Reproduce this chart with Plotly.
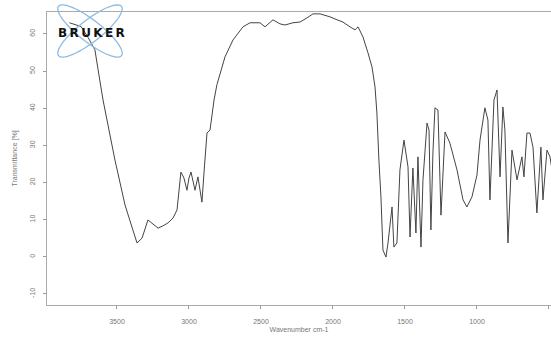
import numpy as np
import plotly.graph_objects as go

wavenumber = [3830, 3750, 3700, 3653, 3639, 3597, 3514, 3444, 3361, 3326, 3285, 3250, 3215, 3181,
              3146, 3111, 3083, 3056, 3035, 3014, 3000, 2986, 2958, 2938, 2910, 2896, 2875, 2854, 2840,
              2826, 2806, 2750, 2694, 2625, 2576, 2507, 2472, 2438, 2417, 2368, 2333, 2278, 2229, 2181,
              2139, 2090, 2021, 1972, 1931, 1882, 1847, 1826, 1792, 1757, 1729, 1708, 1695, 1681, 1667,
              1653, 1632, 1618, 1604, 1590, 1577, 1556, 1535, 1507, 1479, 1465, 1445, 1424, 1410, 1389,
              1375, 1347, 1333, 1320, 1306, 1292, 1271, 1250, 1222, 1188, 1139, 1097, 1070, 1035, 1000,
              979, 945, 924, 910, 882, 861, 840, 820, 806, 785, 757, 722, 688, 674, 653,
              632, 611, 584, 556, 542, 514, 493, 479]
transmittance = [63.0, 62.0, 59.0, 55.7, 52.2, 42.2, 26.0, 13.9, 3.7, 5.0, 9.9, 8.8, 7.7, 8.3,
                 9.1, 10.4, 12.6, 22.8, 21.2, 17.9, 21.2, 22.8, 17.9, 21.5, 14.7, 22.5, 33.3, 34.1, 38.2,
                 42.2, 46.3, 53.8, 58.4, 61.9, 63.0, 63.0, 61.9, 63.2, 63.8, 62.7, 62.4, 63.0, 63.2, 64.3,
                 65.4, 65.4, 64.6, 63.8, 63.2, 61.9, 61.1, 61.9, 59.2, 54.9, 51.1, 45.7, 38.7, 26.0, 16.1,
                 1.8, -0.1, 3.7, 8.5, 13.4, 2.6, 3.7, 23.4, 31.4, 24.2, 5.3, 23.9, 6.4, 26.9, 2.6,
                 20.7, 36.0, 34.1, 7.2, 27.9, 40.1, 39.5, 11.2, 33.6, 30.6, 23.4, 15.3, 13.4, 16.1, 22.0,
                 31.4, 40.1, 36.8, 15.3, 42.2, 44.9, 21.5, 40.3, 34.1, 3.7, 28.7, 20.7, 26.9, 21.5, 33.3,
                 33.3, 29.5, 11.8, 29.5, 15.3, 28.7, 26.9, 23.4]

x_ticks = [3500, 3000, 2500, 2000, 1500, 1000, 500]
y_ticks = [60, 50, 40, 30, 20, 10, 0, -10]

W, H = 551, 339
L, R, T, B = 47, 0, 12, 34
pw, ph = W - L - R, H - T - B

def to_paper(px, py):
    return (px - L) / pw, (H - B - py) / ph

def ellipse_path(cx, cy, a, b, ang):
    t = np.linspace(0, 2 * np.pi, 60)
    c, s = np.cos(np.radians(ang)), np.sin(np.radians(ang))
    xs = cx + a * np.cos(t) * c - b * np.sin(t) * s
    ys = cy + a * np.cos(t) * s + b * np.sin(t) * c
    pts = [to_paper(x, y) for x, y in zip(xs, ys)]
    return "M " + " L ".join(f"{x:.4f},{y:.4f}" for x, y in pts) + " Z"

fig = go.Figure()
fig.add_trace(go.Scatter(x=wavenumber, y=transmittance, mode="lines",
                         line=dict(color="#444444", width=1), showlegend=False))

shapes = []
for ang in (38, -38):
    shapes.append(dict(type="path", xref="paper", yref="paper",
                       path=ellipse_path(90, 31, 40, 11, ang),
                       line=dict(color="#8cbbe3", width=1.3)))
fig.update_layout(shapes=shapes)
bx, by = to_paper(91, 33)
fig.add_annotation(x=bx, y=by, xref="paper", yref="paper",
                   text="<b>B\u2009R\u2009U\u2009K\u2009E\u2009R</b>",
                   xanchor="center", yanchor="middle",
                   showarrow=False, font=dict(family="DejaVu Sans", size=12, color="#111111"))

fig.update_layout(
    width=W, height=H,
    margin=dict(l=L, r=R, t=T, b=B),
    paper_bgcolor="white", plot_bgcolor="white",
    font=dict(family="Liberation Sans", color="#777777", size=7),
    xaxis=dict(range=[3986, 486], tickvals=x_ticks, ticktext=[str(v) for v in x_ticks],
               ticks="outside", ticklen=3, tickcolor="#999999", ticklabelstandoff=7,
               showline=True, linecolor="#aaaaaa", linewidth=1, mirror=True,
               showgrid=False, zeroline=False,
               title=dict(text="Wavenumber cm-1", font=dict(size=7, color="#777777"), standoff=2)),
    yaxis=dict(range=[-13.0, 65.9], tickvals=y_ticks, ticktext=[str(v) for v in y_ticks],
               ticks="outside", ticklen=3, tickcolor="#999999", tickangle=-90, ticklabelstandoff=5,
               showline=True, linecolor="#aaaaaa", linewidth=1, mirror=True,
               showgrid=False, zeroline=False,
               title=dict(text="Transmittance [%]", font=dict(size=7, color="#777777"), standoff=10)),
)

fig.write_html("out.html")
